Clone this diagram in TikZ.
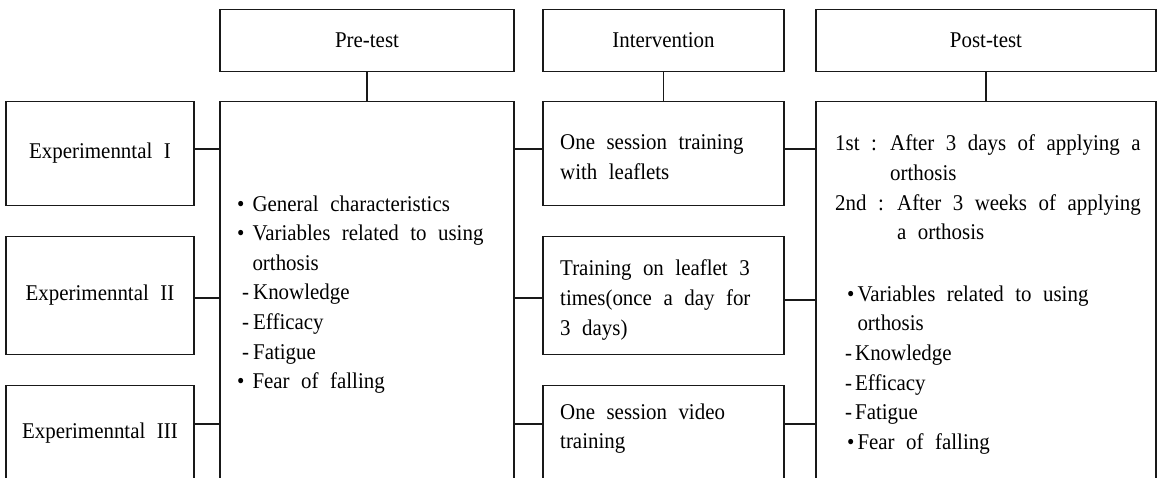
\documentclass[tikz,border=0pt]{standalone}
\usepackage{fontspec}
\setmainfont{Liberation Serif}[FakeStretch=0.93, WordSpace=2.2]
\usetikzlibrary{positioning}

\begin{document}
\begin{tikzpicture}[x=1pt, y=-1pt, node/.style={rectangle, draw=black!90, line width=1.1pt, outer sep=0pt, inner sep=0pt, minimum width=188pt, font=\fontsize{22.5}{29.6}\selectfont}, headnode/.style={node, minimum height=62pt}, bignode/.style={node, minimum height=380pt}, emptynode/.style={draw=none, inner sep=0pt, anchor=west, align=left, font=\fontsize{22.5}{29.6}\selectfont}, connector/.style={draw=black!90, line width=1.1pt}]

    \useasboundingbox (0,0) rectangle (1157,477);
    \clip (0,0) rectangle (1157,477);

    %Nodes
    \node[headnode, minimum width=294pt](pretest) at (367,40.5){Pre-test};
    \node[headnode, minimum width=241pt](intervention)[right=29pt of pretest]{Intervention};
    \node[headnode, minimum width=340pt](posttest)[right=32pt of intervention]{Post-test};
    \node[bignode, minimum width=294pt](pre)[below=30pt of pretest]{};
    \node[node, minimum width=241pt, minimum height=104pt](int1)[below=30pt of intervention]{};
    \node[node, minimum width=241pt, minimum height=118pt](int2)[below=31pt of int1]{};
    \node[node, minimum width=241pt, minimum height=96pt](int3)[below=31pt of int2]{};
    \node[bignode, minimum width=340pt](post)[below=30pt of posttest]{};
    \node[node, minimum height=104pt, anchor=north east](exp1) at ([xshift=-26pt]pre.north west){Experimenntal I};
    \node[node, minimum height=118pt](exp2)[below=31pt of exp1]{Experimenntal II};
    \node[node, minimum height=96pt](exp3)[below=31pt of exp2]{Experimenntal III};

    %Texts
    \node[emptynode](pre_text) at ([xshift=17pt, yshift=-3pt]pre.west){•\hspace{8pt}General characteristics\\ •\hspace{8pt}Variables related to using\\ \phantom{•\hspace{8pt}}orthosis\\ \hspace*{5pt}-\hspace{4pt}Knowledge\\ \hspace*{5pt}-\hspace{4pt}Efficacy\\ \hspace*{5pt}-\hspace{4pt}Fatigue\\ •\hspace{8pt}Fear of falling};
    \node[emptynode](int1_text) at ([xshift=17pt, yshift=-3.5pt]int1.west){One session training\\ with leaflets};
    \node[emptynode](int2_text) at ([xshift=17pt, yshift=-4.5pt]int2.west){Training on leaflet 3\\ times(once a day for\\ 3 days)};
    \node[emptynode](int3_text) at ([xshift=17pt, yshift=5pt]int3.west){One session video\\ training};
    \node[emptynode](post_text) at ([xshift=19pt, yshift=-3pt]post.west){1st : After 3 days of applying a\\ \phantom{1st : }orthosis\\ 2nd : After 3 weeks of applying\\ \phantom{2nd : }a orthosis\\[32pt] \hspace*{12pt}•\hspace{3pt}Variables related to using\\ \hspace*{12pt}\phantom{•\hspace{3pt}}orthosis\\ \hspace*{10pt}-\hspace{3pt}Knowledge\\ \hspace*{10pt}-\hspace{3pt}Efficacy\\ \hspace*{10pt}-\hspace{3pt}Fatigue\\ \hspace*{12pt}•\hspace{3pt}Fear of falling};

    %Lines
    \draw[connector] (pretest.south) -- (pre.north);
    \draw[connector] (intervention.south) -- (int1.north);
    \draw[connector] (posttest.south) -- (post.north);
    \draw[connector] ([yshift=4.5pt]exp1.east) -- ([yshift=4.5pt]exp1.east -| pre.west);
    \draw[connector] ([yshift=-2.5pt]exp2.east) -- ([yshift=-2.5pt]exp2.east -| pre.west);
    \draw[connector] ([yshift=9.5pt]exp3.east) -- ([yshift=9.5pt]exp3.east -| pre.west);
    \draw[connector] ([yshift=4.5pt]int1.west) -- ([yshift=4.5pt]int1.west -| pre.east);
    \draw[connector] ([yshift=-2.5pt]int2.west) -- ([yshift=-2.5pt]int2.west -| pre.east);
    \draw[connector] ([yshift=9.5pt]int3.west) -- ([yshift=9.5pt]int3.west -| pre.east);
    \draw[connector] ([yshift=4.5pt]int1.east) -- ([yshift=4.5pt]int1.east -| post.west);
    \draw[connector] ([yshift=-4.5pt]int2.east) -- ([yshift=-4.5pt]int2.east -| post.west);
    \draw[connector] ([yshift=9.5pt]int3.east) -- ([yshift=9.5pt]int3.east -| post.west);

\end{tikzpicture}
\end{document}
